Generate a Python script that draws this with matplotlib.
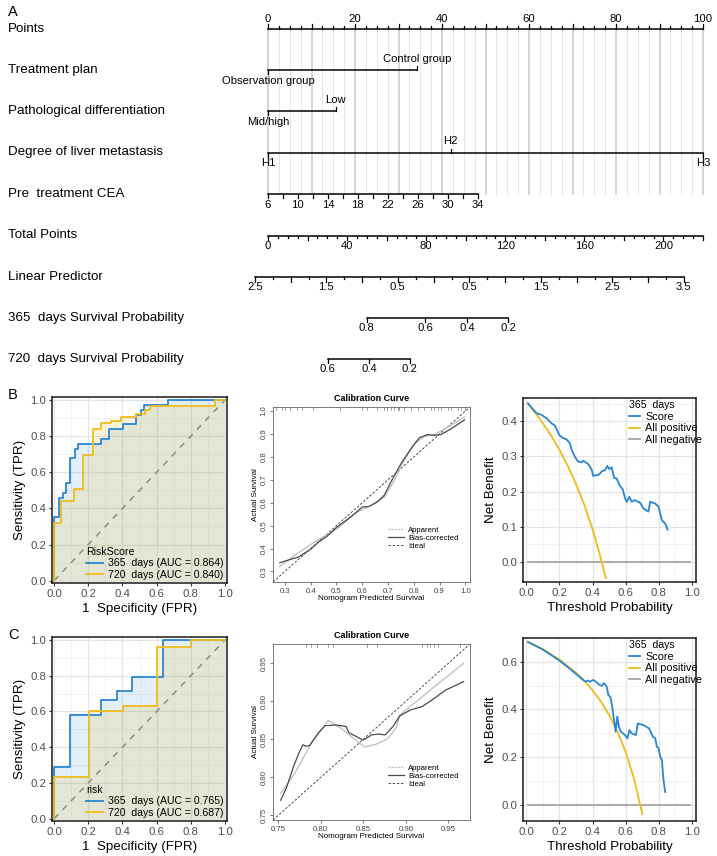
import numpy as np
import matplotlib
matplotlib.use("Agg")
import matplotlib.pyplot as plt
from matplotlib.ticker import FormatStrFormatter
from matplotlib.lines import Line2D

plt.rcParams['font.family'] = ['Liberation Sans', 'DejaVu Sans']

# -----------------------------
# Data
# -----------------------------
# Nomogram (positions in "Points" units)
treat_labels = ["Observation group", "Control group"]
treat_points = [0, 34.2]
diff_labels = ["Mid/high", "Low"]
diff_points = [0, 15.6]
liver_labels = ["H1", "H2", "H3"]
liver_points = [0, 42.0, 100]
cea_ticks = [6, 10, 14, 18, 22, 26, 30, 34]
cea_end_points = 48.2          # CEA 34 sits here on the Points scale
total_ticks = [0, 40, 80, 120, 160, 200]
total_max = 220
lp_labels = ["2.5", "1.5", "0.5", "0.5", "1.5", "2.5", "3.5"]
lp_values = [-2.5, -1.5, -0.5, 0.5, 1.5, 2.5, 3.5]
lp_points = [-2.99, 13.4, 29.8, 46.3, 62.7, 79.1, 95.6]
surv365_labels = ["0.8", "0.6", "0.4", "0.2"]
surv365_points = [22.7, 36.2, 45.8, 55.2]
surv720_labels = ["0.6", "0.4", "0.2"]
surv720_points = [13.7, 23.2, 32.6]

# ROC B (RiskScore)
rocB_365_fpr = [0, 0, 0.03, 0.053, 0.072, 0.095, 0.12, 0.142, 0.276, 0.321, 0.403, 0.48, 0.51, 0.525, 0.665, 1.0]
rocB_365_tpr = [0, 0.35, 0.46, 0.486, 0.54, 0.68, 0.728, 0.756, 0.783, 0.838, 0.866, 0.917, 0.945, 0.972, 1.0, 1.0]
rocB_720_fpr = [0, 0, 0.039, 0.115, 0.17, 0.228, 0.276, 0.335, 0.393, 0.48, 0.53, 0.56, 0.94, 1.0]
rocB_720_tpr = [0, 0.321, 0.44, 0.508, 0.697, 0.84, 0.872, 0.886, 0.905, 0.923, 0.945, 0.967, 1.0, 1.0]
aucB = [0.864, 0.840]

# ROC C (risk)
rocC_365_fpr = [0, 0, 0.095, 0.276, 0.368, 0.457, 0.64, 1.0]
rocC_365_tpr = [0, 0.29, 0.582, 0.666, 0.712, 0.793, 1.0, 1.0]
rocC_720_fpr = [0, 0, 0.204, 0.403, 0.601, 0.80, 1.0]
rocC_720_tpr = [0, 0.235, 0.60, 0.631, 0.963, 1.0, 1.0]
aucC = [0.765, 0.687]

# Calibration B
calB_bias_x = [0.28, 0.32, 0.352, 0.398, 0.43, 0.463, 0.502, 0.554, 0.60, 0.626, 0.658, 0.685,
               0.711, 0.75, 0.789, 0.822, 0.854, 0.88, 0.906, 0.945, 0.997]
calB_bias_y = [0.338, 0.352, 0.363, 0.395, 0.428, 0.453, 0.494, 0.537, 0.581, 0.584, 0.603, 0.632,
               0.69, 0.77, 0.836, 0.884, 0.898, 0.894, 0.898, 0.923, 0.962]
calB_app_x = [0.28, 0.346, 0.424, 0.502, 0.58, 0.633, 0.685, 0.724, 0.763, 0.802, 0.84, 0.88, 0.932, 0.997]
calB_app_y = [0.322, 0.377, 0.435, 0.486, 0.559, 0.588, 0.624, 0.697, 0.785, 0.857, 0.889, 0.898, 0.93, 0.974]
calB_rug = [0.267, 0.287, 0.30, 0.32, 0.346, 0.365, 0.411, 0.515, 0.60, 0.619, 0.658, 0.685, 0.698,
            0.711, 0.724, 0.737, 0.743, 0.763, 0.789, 0.815, 0.841, 0.867, 0.88, 0.893, 0.906,
            0.932, 0.945, 0.971, 0.984, 0.997]

# Calibration C
calC_bias_x = [0.753, 0.760, 0.768, 0.774, 0.779, 0.783, 0.787, 0.797, 0.805, 0.818, 0.830, 0.833,
               0.850, 0.860, 0.868, 0.876, 0.885, 0.893, 0.906, 0.919, 0.931, 0.947, 0.968]
calC_bias_y = [0.770, 0.787, 0.814, 0.831, 0.843, 0.841, 0.842, 0.858, 0.868, 0.869, 0.867, 0.859,
               0.849, 0.856, 0.857, 0.856, 0.867, 0.881, 0.889, 0.893, 0.902, 0.915, 0.926]
calC_app_x = [0.753, 0.770, 0.790, 0.809, 0.825, 0.840, 0.852, 0.866, 0.879, 0.889, 0.893, 0.930, 0.968]
calC_app_y = [0.779, 0.806, 0.847, 0.875, 0.864, 0.850, 0.840, 0.844, 0.851, 0.866, 0.882, 0.916, 0.950]
calC_rug = [0.783, 0.789, 0.796, 0.809, 0.815, 0.854, 0.866, 0.919, 0.925, 0.928, 0.933, 0.938, 0.964]

# Decision curves B
dcaB_score_x = [0.01, 0.061, 0.091, 0.121, 0.152, 0.172, 0.186, 0.198, 0.222, 0.242, 0.263, 0.273,
                0.293, 0.313, 0.333, 0.343, 0.374, 0.394, 0.404, 0.42, 0.435, 0.455, 0.475, 0.489,
                0.50, 0.515, 0.529, 0.545, 0.562, 0.582, 0.596, 0.606, 0.622, 0.636, 0.653, 0.687,
                0.707, 0.737, 0.747, 0.778, 0.798, 0.818, 0.838, 0.853]
dcaB_score_y = [0.451, 0.423, 0.418, 0.409, 0.394, 0.388, 0.375, 0.361, 0.352, 0.349, 0.337, 0.32,
                0.299, 0.285, 0.283, 0.288, 0.278, 0.263, 0.244, 0.247, 0.247, 0.257, 0.261, 0.273,
                0.264, 0.269, 0.24, 0.237, 0.219, 0.206, 0.181, 0.171, 0.185, 0.171, 0.176, 0.168,
                0.152, 0.143, 0.171, 0.166, 0.157, 0.119, 0.109, 0.092]
dcaB_all_x = [0.01, 0.07, 0.10, 0.15, 0.20, 0.25, 0.30, 0.35, 0.40, 0.44, 0.48]
dcaB_all_y = [0.449, 0.414, 0.394, 0.359, 0.319, 0.273, 0.221, 0.162, 0.092, 0.027, -0.046]

# Decision curves C
dcaC_score_x = [0.01, 0.101, 0.202, 0.283, 0.354, 0.374, 0.384, 0.404, 0.424, 0.44, 0.455, 0.469,
                0.485, 0.495, 0.509, 0.521, 0.531, 0.539, 0.549, 0.559, 0.57, 0.596, 0.61, 0.622,
                0.636, 0.661, 0.673, 0.707, 0.741, 0.764, 0.778, 0.788, 0.798, 0.808, 0.818, 0.828, 0.838]
dcaC_score_y = [0.683, 0.651, 0.604, 0.559, 0.517, 0.521, 0.516, 0.524, 0.514, 0.503, 0.499, 0.51,
                0.496, 0.461, 0.45, 0.398, 0.348, 0.306, 0.37, 0.327, 0.306, 0.292, 0.278, 0.313,
                0.299, 0.292, 0.341, 0.334, 0.32, 0.285, 0.278, 0.243, 0.238, 0.201, 0.187, 0.103, 0.053]
dcaC_all_x = [0.01, 0.10, 0.20, 0.30, 0.355, 0.40, 0.45, 0.50, 0.55, 0.60, 0.65, 0.70]
dcaC_all_y = [0.685, 0.653, 0.610, 0.554, 0.518, 0.480, 0.433, 0.376, 0.307, 0.220, 0.109, -0.040]

BLUE = "#2a86d1"
YELLOW = "#eebd1a"
GRAY = "#a6a6a6"

W, H = 717, 856
fig = plt.figure(figsize=(W / 100, H / 100), dpi=100)


def px_axes(l, t, r, b):
    return fig.add_axes([l / W, 1 - b / H, (r - l) / W, (b - t) / H])


# -----------------------------
# A: nomogram
# -----------------------------
ppu = (703 - 268) / 100.0
nom = px_axes(0, 0, W, 385)
nom.set_xlim(-268 / ppu, (W - 268) / ppu)
nom.set_ylim(385, 0)
nom.axis('off')

rows = ["Points", "Treatment plan", "Pathological differentiation", "Degree of liver metastasis",
        "Pre  treatment CEA", "Total Points", "Linear Predictor",
        "365  days Survival Probability", "720  days Survival Probability"]
row_y = [28.5, 69.5, 111, 152.5, 194, 235.5, 277, 317.7, 359]
x_lab = -260 / ppu
for name, y in zip(rows, row_y):
    nom.text(x_lab, y, name, fontsize=9.6, va='center', ha='left')
nom.text(x_lab, 12.5, "A", fontsize=10.5, va='center', ha='left')

lw_ax = 1.1
fs_t = 8.1

# vertical reference lines
for v in np.arange(0, 100.01, 2.5):
    major = abs(v % 10) < 1e-6
    nom.plot([v, v], [row_y[0], row_y[4]], color='#cfcfcf' if major else '#e6e6e6',
             lw=1.2 if major else 0.7, zorder=0)

# Points axis
y = row_y[0]
nom.plot([0, 100], [y, y], color='k', lw=lw_ax)
for v in np.arange(0, 100.01, 2.5):
    ln = 4.5 if abs(v % 10) < 1e-6 else 2.2
    nom.plot([v, v], [y, y - ln], color='k', lw=0.9)
for v in range(0, 101, 20):
    nom.text(v, y - 5, str(v), fontsize=fs_t, ha='center', va='bottom')


def cat_axis(y, pts, labels, sides):
    nom.plot([pts[0], pts[-1]], [y, y], color='k', lw=lw_ax)
    for p, lab, s in zip(pts, labels, sides):
        nom.plot([p, p], [y, y + 4 * s], color='k', lw=0.9)
        nom.text(p, y + 11 * s, lab, fontsize=fs_t, ha='center', va='center')


cat_axis(row_y[1], treat_points, treat_labels, [1, -1])
cat_axis(row_y[2], diff_points, diff_labels, [1, -1])
cat_axis(row_y[3], liver_points, liver_labels, [1, -1, 1])


def num_axis(y, tick_pts, lab_pts, labels, long_pts=None):
    nom.plot([min(tick_pts), max(tick_pts)], [y, y], color='k', lw=lw_ax)
    for p in tick_pts:
        ln = 2.2
        if long_pts is not None and np.min(np.abs(np.array(long_pts) - p)) < 1e-6:
            ln = 4.5
        if long_pts is None:
            ln = 4.0
        nom.plot([p, p], [y, y + ln], color='k', lw=0.9)
    for p, lab in zip(lab_pts, labels):
        nom.text(p, y + 5.5, lab, fontsize=fs_t, ha='center', va='top')


# CEA
cea_scale = cea_end_points / (cea_ticks[-1] - cea_ticks[0])
cea_minor = [(v - cea_ticks[0]) * cea_scale for v in range(6, 35, 2)]
num_axis(row_y[4], cea_minor, [(v - cea_ticks[0]) * cea_scale for v in cea_ticks],
         [str(v) for v in cea_ticks])

# Total points
tp_scale = 100.0 / total_max
tp_minor = [v * tp_scale for v in range(0, total_max + 1, 5)]
tp_major = [v * tp_scale for v in range(0, total_max + 1, 20)]
num_axis(row_y[5], tp_minor, [v * tp_scale for v in total_ticks],
         [str(v) for v in total_ticks], long_pts=tp_major)

# Linear predictor
lp_slope = (lp_points[-1] - lp_points[0]) / (lp_values[-1] - lp_values[0])
lp_minor = [lp_points[0] + (v - lp_values[0]) * lp_slope for v in np.arange(-2.5, 3.51, 0.25)]
lp_major = [lp_points[0] + (v - lp_values[0]) * lp_slope for v in np.arange(-2.5, 3.51, 0.5)]
num_axis(row_y[6], lp_minor, lp_points, lp_labels, long_pts=lp_major)

# Survival probabilities
num_axis(row_y[7], surv365_points, surv365_points, surv365_labels)
num_axis(row_y[8], surv720_points, surv720_points, surv720_labels)


# -----------------------------
# ggplot-like panels
# -----------------------------
def gg_style(ax, ymaj, ymin):
    ax.set_facecolor('white')
    ax.set_xticks(np.arange(0, 1.01, 0.2))
    ax.set_xticks(np.arange(0.1, 1.0, 0.2), minor=True)
    ax.set_yticks(ymaj)
    ax.set_yticks(ymin, minor=True)
    ax.grid(which='major', color='#e4e4e4', lw=0.9)
    ax.grid(which='minor', color='#f0f0f0', lw=0.6)
    ax.set_axisbelow(True)
    ax.tick_params(which='minor', length=0)
    ax.tick_params(which='major', length=2.5, width=0.8, color='#333333',
                   labelsize=8.2, labelcolor='#4d4d4d', pad=1.5)
    ax.xaxis.set_major_formatter(FormatStrFormatter('%.1f'))
    ax.yaxis.set_major_formatter(FormatStrFormatter('%.1f'))
    for s in ax.spines.values():
        s.set_color('#1a1a1a')
        s.set_linewidth(1.1)


def roc_panel(box, f1, t1, f2, t2, aucs, title, letter):
    ax = px_axes(*box)
    ax.fill_between(f1, t1, 0, step='post', color=BLUE, alpha=0.13, lw=0)
    ax.fill_between(f2, t2, 0, step='post', color=YELLOW, alpha=0.16, lw=0)
    ax.plot([0, 1], [0, 1], ls=(0, (4, 4)), color='#8a8a8a', lw=1.1)
    ax.step(f1, t1, where='post', color=BLUE, lw=1.3)
    ax.step(f2, t2, where='post', color=YELLOW, lw=1.3)
    ax.set_xlim(-0.012, 1.012)
    ax.set_ylim(-0.013, 1.017)
    gg_style(ax, np.arange(0, 1.01, 0.2), np.arange(0.1, 1.0, 0.2))
    ax.set_xlabel("1  Specificity (FPR)", fontsize=9.6, labelpad=3.5)
    ax.set_ylabel("Sensitivity (TPR)", fontsize=9.6, labelpad=3)
    handles = [Line2D([], [], color=BLUE, lw=1.3), Line2D([], [], color=YELLOW, lw=1.3)]
    leg = ax.legend(handles, ["365  days (AUC = %.3f)" % aucs[0], "720  days (AUC = %.3f)" % aucs[1]],
                    title=title, loc='lower right', frameon=False, fontsize=7.6,
                    title_fontsize=7.6, handlelength=1.6, handletextpad=0.5,
                    borderaxespad=0.1, labelspacing=0.15, borderpad=0.2)
    leg._legend_box.align = 'left'
    fig.text(8 / W, 1 - (box[1] - 2) / H, letter, fontsize=10.5, ha='left', va='center')
    return ax


roc_panel((52, 397, 227, 583), rocB_365_fpr, rocB_365_tpr, rocB_720_fpr, rocB_720_tpr,
          aucB, "RiskScore", "B")
roc_panel((52, 637, 227, 821), rocC_365_fpr, rocC_365_tpr, rocC_720_fpr, rocC_720_tpr,
          aucC, "risk", "C")


def dca_panel(box, sx, sy, ax_, ay, ylim, ymaj, ymin):
    ax = px_axes(*box)
    ax.plot([0.01, 0.99], [0, 0], color=GRAY, lw=1.3)
    ax.plot(ax_, ay, color=YELLOW, lw=1.3)
    ax.plot(sx, sy, color=BLUE, lw=1.3)
    ax.set_xlim(-0.02, 1.024)
    ax.set_ylim(*ylim)
    gg_style(ax, ymaj, ymin)
    ax.set_xlabel("Threshold Probability", fontsize=9.6, labelpad=3.5)
    ax.set_ylabel("Net Benefit", fontsize=9.6, labelpad=3)
    handles = [Line2D([], [], color=BLUE, lw=1.3), Line2D([], [], color=YELLOW, lw=1.3),
               Line2D([], [], color=GRAY, lw=1.3)]
    leg = ax.legend(handles, ["Score", "All positive", "All negative"], title="365  days",
                    loc='upper left', bbox_to_anchor=(0.6, 1.0), frameon=False,
                    fontsize=7.8, title_fontsize=7.6, handlelength=1.0, handletextpad=0.5,
                    borderaxespad=0.0, labelspacing=0.15, borderpad=0.2)
    leg._legend_box.align = 'left'
    return ax


dca_panel((523, 398, 696, 582), dcaB_score_x, dcaB_score_y, dcaB_all_x, dcaB_all_y,
          (-0.057, 0.466), np.arange(0, 0.41, 0.1), np.arange(0.05, 0.46, 0.1))
dca_panel((523, 638, 696, 821), dcaC_score_x, dcaC_score_y, dcaC_all_x, dcaC_all_y,
          (-0.069, 0.70), np.arange(0, 0.61, 0.2), np.arange(0.1, 0.7, 0.2))


# -----------------------------
# Calibration (base R style)
# -----------------------------
def cal_panel(box, bx, by, apx, apy, rug, lims, ticks, fmt):
    ax = px_axes(*box)
    ax.plot([lims[0], lims[1]], [lims[0], lims[1]], color='#333333', lw=0.6, ls=(0, (3, 2)))
    ax.plot(apx, apy, color='#bdbdbd', lw=0.9)
    ax.plot(bx, by, color='#4a4a4a', lw=0.9)
    for r in rug:
        ax.plot([r, r], [lims[1], lims[1] - (lims[1] - lims[0]) * 0.015], color='#777777', lw=0.5)
    ax.set_xlim(*lims)
    ax.set_ylim(*lims)
    ax.set_xticks(ticks)
    ax.set_yticks(ticks)
    ax.xaxis.set_major_formatter(FormatStrFormatter(fmt))
    ax.yaxis.set_major_formatter(FormatStrFormatter(fmt))
    ax.tick_params(length=2.5, width=0.5, labelsize=5.6, pad=1.5, colors='#444444')
    for lab in ax.get_yticklabels():
        lab.set_rotation(90)
        lab.set_va('center')
    for s in ax.spines.values():
        s.set_color('#666666')
        s.set_linewidth(0.6)
    ax.set_title("Calibration Curve", fontsize=6.5, fontweight='bold', pad=4)
    ax.set_xlabel("Nomogram Predicted Survival", fontsize=5.8, labelpad=0.5)
    ax.set_ylabel("Actual Survival", fontsize=5.8, labelpad=1)
    handles = [Line2D([], [], color='#bdbdbd', lw=0.9, ls=(0, (1.5, 1))),
               Line2D([], [], color='#4a4a4a', lw=0.9),
               Line2D([], [], color='#333333', lw=0.6, ls=(0, (3, 2)))]
    ax.legend(handles, ["Apparent", "Bias-corrected", "Ideal"], loc='center left',
              bbox_to_anchor=(0.56, 0.25), frameon=False, fontsize=5.6, handlelength=2.0,
              handletextpad=0.6, labelspacing=0.05, borderpad=0.1)
    return ax


cal_panel((273, 407, 470, 582), calB_bias_x, calB_bias_y, calB_app_x, calB_app_y, calB_rug,
          (0.254, 1.018), np.arange(0.3, 1.01, 0.1), '%.1f')
cal_panel((273, 644, 470, 820), calC_bias_x, calC_bias_y, calC_app_x, calC_app_y, calC_rug,
          (0.744, 0.9755), np.arange(0.75, 0.96, 0.05), '%.2f')

fig.savefig("out.png", dpi=100)
